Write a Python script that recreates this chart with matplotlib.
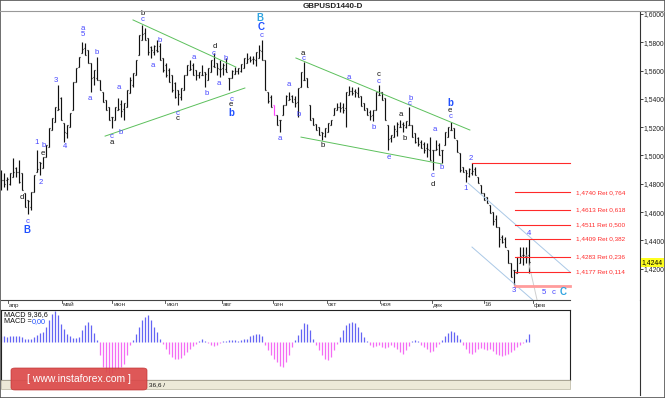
import numpy as np
import matplotlib
matplotlib.use("Agg")
import matplotlib.pyplot as plt
from matplotlib.collections import LineCollection
from matplotlib.lines import Line2D
from matplotlib.patches import Rectangle, FancyBboxPatch
from matplotlib.transforms import blended_transform_factory

plt.rcParams["font.family"] = ["Liberation Sans", "DejaVu Sans"]

# GBPUSD daily bars (every bar), high / low
highs = [1.4897, 1.4876, 1.4848, 1.4876, 1.4982, 1.4918, 1.4968, 1.4876, 1.4734, 1.4685,
         1.4742, 1.4862, 1.5038, 1.4954, 1.4989, 1.5074, 1.5194, 1.5265, 1.5343, 1.5498,
         1.5413, 1.5229, 1.5215, 1.5300, 1.5519, 1.5618, 1.5696, 1.5802, 1.5795, 1.5745,
         1.5654, 1.5604, 1.5696, 1.5533, 1.5449, 1.5392, 1.5343, 1.5272, 1.5343, 1.5406,
         1.5392, 1.5371, 1.5463, 1.5555, 1.5583, 1.5675, 1.5852, 1.5922, 1.5901, 1.5830,
         1.5774, 1.5781, 1.5816, 1.5795, 1.5689, 1.5654, 1.5618, 1.5569, 1.5519, 1.5463,
         1.5477, 1.5569, 1.5639, 1.5675, 1.5654, 1.5604, 1.5590, 1.5639, 1.5590, 1.5618,
         1.5675, 1.5724, 1.5654, 1.5675, 1.5654, 1.5689, 1.5548, 1.5604, 1.5625, 1.5618,
         1.5647, 1.5689, 1.5724, 1.5703, 1.5703, 1.5731, 1.5781, 1.5816, 1.5675, 1.5449,
         1.5427, 1.5357, 1.5286, 1.5251, 1.5357, 1.5427, 1.5449, 1.5427, 1.5420, 1.5477,
         1.5590, 1.5661, 1.5548, 1.5357, 1.5265, 1.5222, 1.5201, 1.5166, 1.5194, 1.5229,
         1.5251, 1.5335, 1.5371, 1.5378, 1.5371, 1.5449, 1.5491, 1.5484, 1.5470, 1.5484,
         1.5420, 1.5371, 1.5335, 1.5321, 1.5321, 1.5449, 1.5498, 1.5449, 1.5406, 1.5215,
         1.5145, 1.5215, 1.5236, 1.5251, 1.5236, 1.5244, 1.5343, 1.5215, 1.5159, 1.5130,
         1.5109, 1.5095, 1.5088, 1.5130, 1.5038, 1.5109, 1.5088, 1.5038, 1.5166, 1.5201,
         1.5236, 1.5194, 1.5109, 1.5017, 1.4918, 1.4897, 1.4911, 1.4947, 1.4918, 1.4848,
         1.4791, 1.4734, 1.4706, 1.4650, 1.4600, 1.4579, 1.4494, 1.4438, 1.4423, 1.4331,
         1.4240, 1.4190, 1.4282, 1.4353, 1.4353, 1.4353, 1.4410]
lows = [1.4756, 1.4777, 1.4756, 1.4791, 1.4848, 1.4848, 1.4805, 1.4756, 1.4636, 1.4586,
        1.4614, 1.4742, 1.4883, 1.4862, 1.4911, 1.4989, 1.5060, 1.5180, 1.5236, 1.5321,
        1.5251, 1.5095, 1.5123, 1.5201, 1.5321, 1.5519, 1.5625, 1.5724, 1.5710, 1.5654,
        1.5449, 1.5498, 1.5533, 1.5463, 1.5378, 1.5321, 1.5251, 1.5194, 1.5251, 1.5321,
        1.5272, 1.5251, 1.5343, 1.5441, 1.5484, 1.5569, 1.5710, 1.5816, 1.5816, 1.5710,
        1.5689, 1.5710, 1.5731, 1.5675, 1.5590, 1.5555, 1.5519, 1.5449, 1.5406, 1.5357,
        1.5392, 1.5463, 1.5569, 1.5604, 1.5569, 1.5533, 1.5548, 1.5569, 1.5484, 1.5533,
        1.5590, 1.5625, 1.5569, 1.5555, 1.5569, 1.5590, 1.5463, 1.5548, 1.5576, 1.5576,
        1.5590, 1.5618, 1.5654, 1.5661, 1.5647, 1.5632, 1.5689, 1.5675, 1.5463, 1.5371,
        1.5343, 1.5286, 1.5215, 1.5166, 1.5286, 1.5357, 1.5392, 1.5378, 1.5343, 1.5272,
        1.5484, 1.5533, 1.5484, 1.5251, 1.5215, 1.5180, 1.5145, 1.5109, 1.5130, 1.5166,
        1.5215, 1.5286, 1.5321, 1.5307, 1.5300, 1.5201, 1.5427, 1.5427, 1.5413, 1.5413,
        1.5350, 1.5321, 1.5286, 1.5251, 1.5244, 1.5321, 1.5427, 1.5392, 1.5251, 1.5038,
        1.5095, 1.5130, 1.5137, 1.5201, 1.5166, 1.5194, 1.5215, 1.5130, 1.5088, 1.5067,
        1.5053, 1.5017, 1.4989, 1.4968, 1.4897, 1.5038, 1.5003, 1.4947, 1.5074, 1.5130,
        1.5180, 1.5123, 1.5024, 1.4883, 1.4883, 1.4812, 1.4848, 1.4862, 1.4862, 1.4805,
        1.4734, 1.4685, 1.4664, 1.4593, 1.4508, 1.4494, 1.4353, 1.4381, 1.4353, 1.4240,
        1.4141, 1.4084, 1.4169, 1.4240, 1.4225, 1.4240, 1.4169]
last_close = 1.4244

# MACD(9,36,6) histogram, same bars (relative units)
macd = [17, 17, 16, 18, 17, 18, 18, 15, 10, 8, 10, 14, 22, 28, 30, 45, 65, 85, 94, 80,
        55, 40, 25, 18, 12, 12, 15, 35, 50, 60, 50, 28, 5, -40, -75, -90, -95, -92, -85, -80,
        -75, -65, -40, -10, 5, 25, 45, 65, 75, 80, 65, 45, 30, 10, -5, -20, -35, -45, -50, -52,
        -48, -40, -30, -22, -12, -5, 3, 8, 4, -3, -8, -12, -8, -4, 2, 4, 6, 5, 6, 4,
        5, 8, 10, 18, 22, 25, 24, 18, -10, -25, -40, -52, -60, -72, -75, -60, -40, -15, 5, 20,
        40, 57, 55, 35, 10, -10, -25, -40, -50, -53, -45, -25, -5, 15, 35, 52, 58, 59, 56, 45,
        30, 15, 3, -10, -15, -12, -8, -14, -18, -15, -10, -15, -22, -30, -35, -25, -12, 3, 6, 3,
        -8, -15, -22, -30, -28, -15, -5, 5, 18, 28, 34, 30, 22, 8, -10, -22, -32, -35, -30, -22,
        -18, -20, -25, -22, -28, -35, -40, -41, -40, -35, -30, -25, -15, -8, -3, 10, 25]

month_labels = ["апр", "май", "июн", "июл", "авг", "сен", "окт", "ноя", "дек", "16", "фев"]
month_bars = [2.2, 20.2, 37.1, 54.8, 73.5, 90.5, 108.6, 126.2, 143.5, 160.9, 177.2]

fib_ratios = [0.764, 0.618, 0.500, 0.382, 0.236, 0.114]
fib_prices = [1.4740, 1.4613, 1.4511, 1.4409, 1.4283, 1.4177]
fib_top = 1.4947
fib_bottom = 1.4079

BLUE = "#4646ff"
BLACK = "#111111"
CYAN = "#2fa4e0"
# wave labels: bar, price, text, colour, bold
waves = [
    (14.3, 1.5074, "b", BLUE, False), (14.0, 1.5017, "e", BLACK, False),
    (7.0, 1.4706, "d", BLACK, False), (8.7, 1.4537, "c", BLUE, False),
    (8.7, 1.4470, "B", "#2050ff", True), (12.0, 1.5095, "1", BLUE, False),
    (13.3, 1.4812, "2", BLUE, False), (18.3, 1.5533, "3", BLUE, False),
    (21.3, 1.5067, "4", BLUE, False), (27.3, 1.5852, "5", BLUE, False),
    (27.3, 1.5901, "a", BLUE, False), (29.7, 1.5406, "a", BLUE, False),
    (32.0, 1.5731, "b", BLUE, False), (37.0, 1.5137, "c", BLUE, False),
    (37.0, 1.5090, "a", BLACK, False), (39.3, 1.5484, "a", BLUE, False),
    (40.0, 1.5159, "b", BLUE, False), (47.3, 1.6007, "b", BLACK, False),
    (47.3, 1.5958, "c", BLUE, False), (50.7, 1.5639, "a", BLUE, False),
    (53.0, 1.5816, "b", BLUE, False), (58.7, 1.5300, "c", BLUE, False),
    (59.0, 1.5260, "c", BLACK, False), (64.3, 1.5696, "a", BLUE, False),
    (68.7, 1.5441, "b", BLUE, False), (71.0, 1.5724, "c", BLUE, False),
    (71.3, 1.5767, "d", BLACK, False), (72.7, 1.5512, "a", BLUE, False),
    (75.0, 1.5682, "b", BLUE, False), (76.7, 1.5399, "c", BLUE, False),
    (76.7, 1.5357, "e", BLACK, False), (76.7, 1.5300, "b", "#2050ff", True),
    (86.3, 1.5975, "B", CYAN, True), (86.7, 1.5908, "C", "#2050ff", True),
    (86.7, 1.5845, "c", BLUE, False), (93.0, 1.5123, "a", BLUE, False),
    (96.0, 1.5505, "a", BLUE, False), (99.3, 1.5293, "b", BLUE, False),
    (100.7, 1.5724, "a", BLACK, False), (100.7, 1.5682, "c", BLUE, False),
    (107.3, 1.5074, "b", BLACK, False), (116.0, 1.5548, "a", BLUE, False),
    (124.3, 1.5201, "b", BLUE, False), (126.0, 1.5569, "c", BLACK, False),
    (126.0, 1.5526, "c", BLUE, False), (129.3, 1.4989, "e", BLUE, False),
    (133.3, 1.5293, "a", BLACK, False), (134.7, 1.5123, "b", BLACK, False),
    (136.7, 1.5406, "b", BLUE, False), (136.3, 1.5364, "c", BLUE, False),
    (144.7, 1.5187, "a", BLUE, False), (144.0, 1.4862, "c", BLUE, False),
    (144.0, 1.4798, "d", BLACK, False), (147.0, 1.4918, "b", BLUE, False),
    (149.7, 1.5371, "b", "#2050ff", True), (149.7, 1.5321, "e", BLACK, False),
    (149.7, 1.5279, "c", BLUE, False), (155.0, 1.4770, "1", BLUE, False),
    (156.7, 1.4982, "2", BLUE, False), (171.0, 1.4049, "3", BLUE, False),
    (176.0, 1.4452, "4", BLUE, False), (181.0, 1.4035, "5", BLUE, False),
    (184.3, 1.4035, "c", BLUE, False), (187.3, 1.4035, "C", CYAN, True),
]

# trend lines: (bar0, price0, bar1, price1)
green_lines = [(44.0, 1.5958, 78.3, 1.5625), (34.7, 1.5137, 81.3, 1.5477),
               (98.3, 1.5689, 156.3, 1.5180), (100.0, 1.5130, 147.0, 1.4940)]
channel_lines = [(155.7, 1.4805, 189.7, 1.4176), (157.0, 1.4353, 177.3, 1.3978)]

W, H = 665, 398


def box(x0, y0, x1, y1):
    return [x0 / W, 1 - y1 / H, (x1 - x0) / W, (y1 - y0) / H]


fig = plt.figure(figsize=(W / 100, H / 100), dpi=100)
fig.patch.set_facecolor("white")

# ---- price panel ----
ax = fig.add_axes(box(1, 12, 640, 300))
n = len(highs)
idx = np.arange(n)
hi = np.array(highs)
lo = np.array(lows)
mid = (hi + lo) / 2
opens = np.clip(np.r_[mid[0], mid[:-1]], lo, hi)
closes = np.clip(np.r_[mid[1:], last_close], lo, hi)

bar_cols = [BLACK] * n
bar_cols[91] = "#ff44ff"
segs = [[(i, lo[i]), (i, hi[i])] for i in idx]
segs += [[(i - 0.45, opens[i]), (i, opens[i])] for i in idx]
segs += [[(i, closes[i]), (i + 0.45, closes[i])] for i in idx]
ax.add_collection(LineCollection(segs, colors=bar_cols * 3, linewidths=0.85))

for x0, y0, x1, y1 in green_lines:
    ax.plot([x0, x1], [y0, y1], color="#5cc05c", lw=0.7)
for x0, y0, x1, y1 in channel_lines:
    ax.plot([x0, x1], [y0, y1], color="#aac8e6", lw=0.7)
ax.plot([175.3, 178.7], [1.4296, 1.3978], color="#cfcfcf", lw=0.7)

# fibonacci retracement
ax.plot([157, 189.7], [fib_top, fib_top], color="#ff2a2a", lw=0.8)
ax.plot([171.3, 189.7], [fib_bottom, fib_bottom], color="#ff9c9c", lw=2)
for r, p in zip(fib_ratios, fib_prices):
    ax.plot([171.3, 189.7], [p, p], color="#ff2a2a", lw=0.8)
    ax.text(191.7, p, f"{p:.4f} Ret {r:.3f}".replace(".", ","), color="#ff2a2a",
            fontsize=4.6, va="center", ha="left")

for x, p, t, c, b in waves:
    ax.text(x, p, t, color=c, fontsize=7 if b else 5.6,
            fontweight="bold" if b else "normal", ha="center", va="center")

ax.set_xlim(0, 213)
ax.set_ylim(1.39788, 1.60141)
for s in ["top", "left", "bottom"]:
    ax.spines[s].set_visible(False)
ax.spines["right"].set_color("#333333")
ax.spines["right"].set_linewidth(0.8)
ax.set_xticks([])
ax.yaxis.tick_right()
yt = np.arange(1.42, 1.6001, 0.02)
ax.set_yticks(yt)
ax.set_yticklabels([f"{v:.4f}".replace(".", ",") for v in yt])
ax.tick_params(axis="y", direction="out", length=2, width=0.6, labelsize=4.9,
               pad=0.6, colors="#222222")
ax.text(1.003, last_close, f"{last_close:.4f}".replace(".", ","),
        transform=ax.get_yaxis_transform(), fontsize=4.9, va="center", ha="left",
        bbox=dict(facecolor="#ffff20", edgecolor="none", pad=0.5), zorder=5)

# ---- date strip ----
trans = blended_transform_factory(ax.transData, fig.transFigure)
fig.add_artist(Line2D([1 / W, 570 / W], [1 - 300 / H] * 2, color="#444444", lw=0.8))
for m, lab in zip(month_bars, month_labels):
    fig.add_artist(Line2D([m, m], [1 - 300 / H, 1 - 303 / H], color="#444444",
                          lw=0.6, transform=trans))
    fig.text(m + 0.3, 1 - 305 / H, lab, transform=trans, fontsize=4.6,
             va="center", ha="left", color="#333333")

# ---- MACD panel ----
am = fig.add_axes(box(1, 310, 570, 380))
mv = np.array(macd)
am.vlines(idx, 0, mv, colors=np.where(mv >= 0, "#6464f4", "#f46cf4"), lw=0.9)
am.set_xlim(0, 189.67)
am.set_ylim(-114, 96)
am.set_xticks([])
am.set_yticks([])
for s in am.spines.values():
    s.set_color("#222222")
    s.set_linewidth(0.8)
am.text(0.006, 0.94, "MACD 9,36,6", transform=am.transAxes, fontsize=5.2,
        va="center", ha="left", color=BLACK)
am.text(0.006, 0.83, "MACD =", transform=am.transAxes, fontsize=5.2,
        va="center", ha="left", color=BLACK)
am.text(0.054, 0.83, "0,00", transform=am.transAxes, fontsize=5.2,
        va="center", ha="left", color="#2050ff")

# tab strip and watermark
fig.add_artist(Rectangle((1 / W, 1 - 389 / H), 569 / W, 9 / H, transform=fig.transFigure,
                         facecolor="#ece9d8", edgecolor="#b8b4a0", lw=0.5))
fig.text(149 / W, 1 - 384.5 / H, "36,6 /", fontsize=4.6, ha="left", va="center",
         color=BLACK)
fig.add_artist(FancyBboxPatch((11 / W, 1 - 390 / H), 136 / W, 22 / H,
                              boxstyle="round,pad=0,rounding_size=0.006",
                              transform=fig.transFigure, facecolor="#dc4a4a",
                              edgecolor="#c03030", lw=0.5, alpha=0.92))
fig.text(79 / W, 1 - 379 / H, "[ www.instaforex.com ]", fontsize=7.5, ha="center",
         va="center", color="white")

# title and frame
fig.text(333 / W, 1 - 6 / H, "GBPUSD1440-D", fontsize=5.8, fontweight="bold",
         ha="center", va="center", color="#222222")
fig.add_artist(Line2D([0, 1], [1 - 11 / H] * 2, color="#999999", lw=0.8))
fig.add_artist(Line2D([640 / W, 640 / W], [1 - 300 / H, 1 - 395 / H], color="#333333", lw=0.8))
fig.add_artist(Rectangle((0, 0), 1, 1, transform=fig.transFigure, fill=False,
                         edgecolor="#555555", lw=1.2))

fig.savefig("out.png", dpi=100)
